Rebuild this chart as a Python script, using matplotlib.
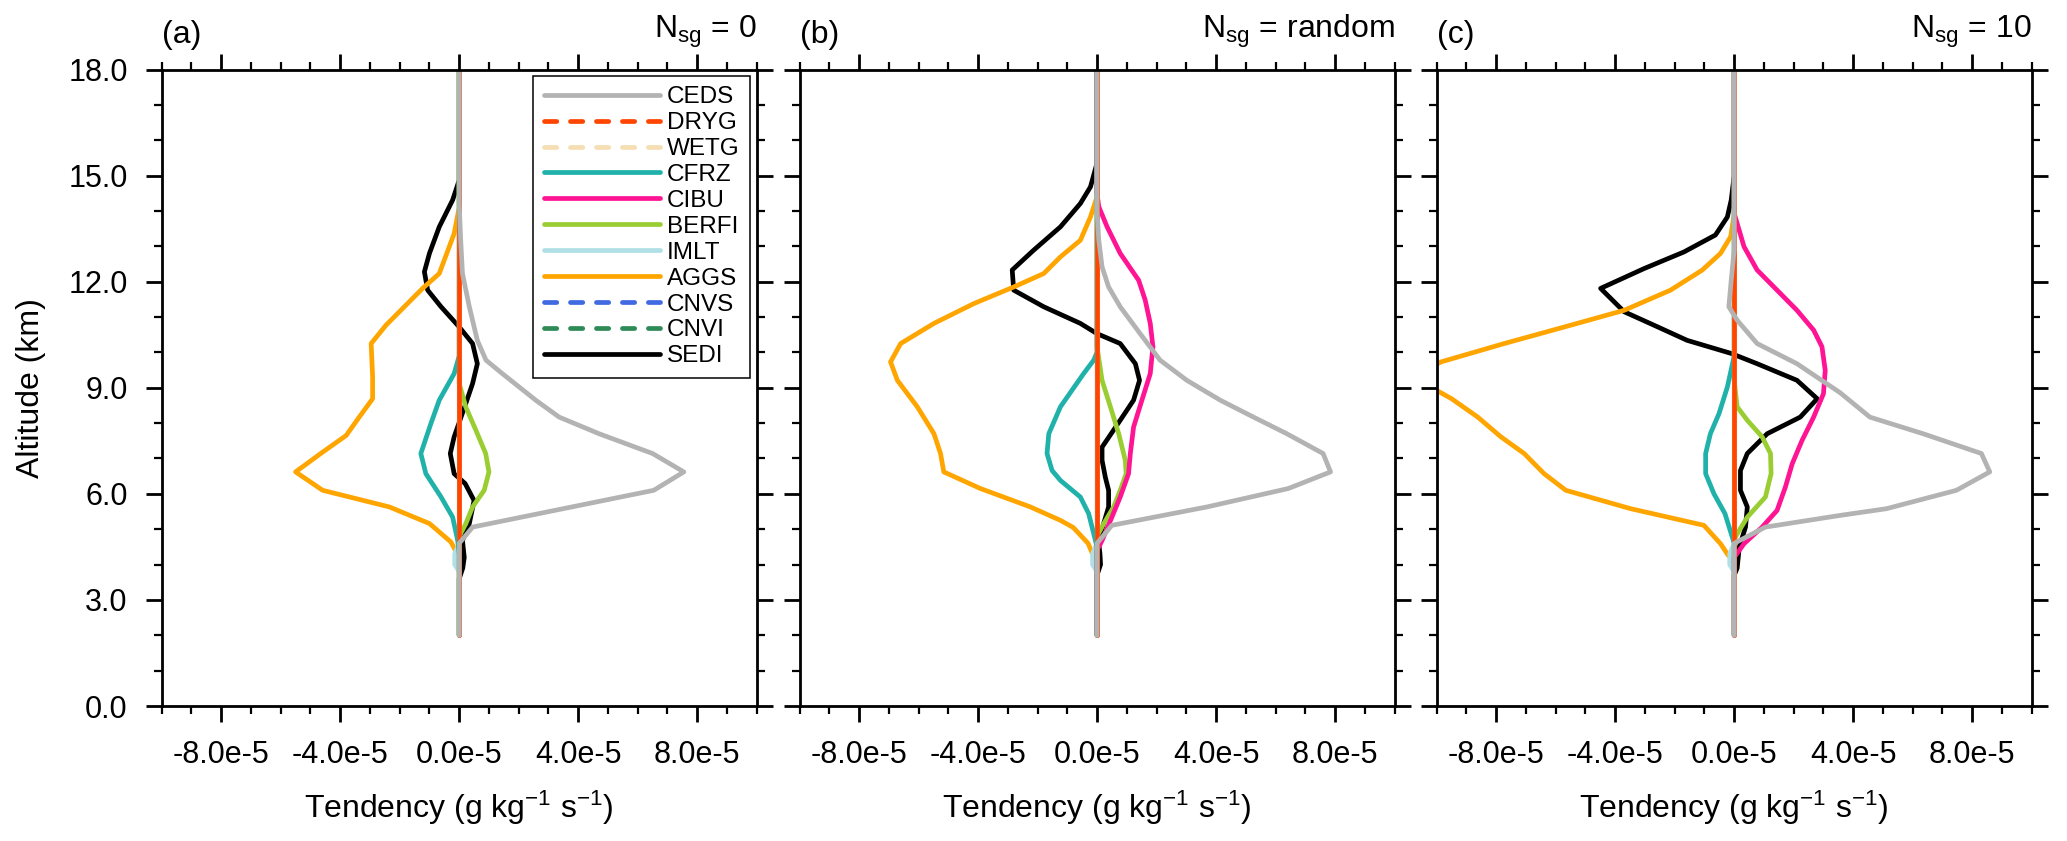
import numpy as np
import matplotlib
matplotlib.use('Agg')
import matplotlib.pyplot as plt
from matplotlib.ticker import FixedLocator, MultipleLocator

plt.rcParams['font.family'] = 'Liberation Sans'
plt.rcParams['mathtext.fontset'] = 'custom'
plt.rcParams['mathtext.rm'] = 'Liberation Sans'
plt.rcParams['mathtext.it'] = 'Liberation Sans:italic'

scale = 1e-5  # profile values below are in units of 1e-5 g/kg/s

# legend order (top to bottom), colours and dashing
procs = ['CEDS', 'DRYG', 'WETG', 'CFRZ', 'CIBU', 'BERFI', 'IMLT', 'AGGS', 'CNVS', 'CNVI', 'SEDI']
colors = ['#b3b3b3', '#ff4500', '#f5deb3', '#20b2aa', '#ff1493', '#9acd32',
          '#b0e0e6', '#ffa500', '#4169e1', '#2e8b57', 'black']
dashed = [False, True, True, False, False, False, False, False, True, True, False]

panel_tags = ['(a)', '(b)', '(c)']
panel_titles = [r'N$_{\mathrm{sg}}$ = 0', r'N$_{\mathrm{sg}}$ = random', r'N$_{\mathrm{sg}}$ = 10']

xticks = [-8e-5, -4e-5, 0.0, 4e-5, 8e-5]
xticklabels = ['-8.0e-5', '-4.0e-5', '0.0e-5', '4.0e-5', '8.0e-5']
yticks = [0, 3, 6, 9, 12, 15, 18]
yticklabels = ['0.0', '3.0', '6.0', '9.0', '12.0', '15.0', '18.0']

# processes that stay at zero
zero_z = [2.0, 18.0]
zero_x = [0.0, 0.0]

imlt_z = [2.0, 3.8, 4.0, 4.3, 4.6, 18.0]
imlt_x = [0.0, 0.0, -0.15, -0.15, 0.0, 0.0]

# ---- panel (a): Nsg = 0
ceds_a_z = [2.0, 4.6, 5.06, 6.10, 6.62, 7.14, 7.70, 8.17, 8.65, 9.40, 9.78, 10.34, 11.29, 12.23, 13.17, 14.2, 18.0]
ceds_a_x = [0.0, 0.0, 0.45, 6.54, 7.55, 6.5, 4.7, 3.36, 2.57, 1.45, 0.9, 0.61, 0.34, 0.11, 0.05, 0.0, 0.0]
aggs_a_z = [2.0, 4.2, 4.64, 5.16, 5.63, 6.10, 6.62, 7.18, 7.65, 8.17, 8.69, 9.30, 10.25, 10.77, 11.81, 12.23, 13.36, 14.1, 18.0]
aggs_a_x = [0.0, 0.0, -0.28, -1.0, -2.35, -4.59, -5.50, -4.59, -3.80, -3.36, -2.91, -2.91, -2.96, -2.46, -1.23, -0.67, -0.17, 0.0, 0.0]
sedi_a_z = [2.0, 3.6, 3.9, 4.2, 4.68, 5.16, 5.81, 6.29, 6.57, 7.14, 7.61, 8.55, 9.12, 9.68, 10.25, 10.72, 11.29, 11.76, 12.28, 12.80, 13.55, 14.31, 14.87, 18.0]
sedi_a_x = [0.0, 0.0, 0.12, 0.17, 0.11, 0.34, 0.5, 0.2, -0.17, -0.30, -0.17, 0.22, 0.45, 0.61, 0.45, 0.0, -0.61, -1.06, -1.17, -1.0, -0.67, -0.22, 0.0, 0.0]
cfrz_a_z = [2.0, 4.3, 4.68, 5.34, 5.91, 6.57, 7.14, 7.99, 8.65, 9.40, 9.9, 18.0]
cfrz_a_x = [0.0, 0.0, -0.05, -0.22, -0.61, -1.12, -1.29, -0.95, -0.67, -0.17, 0.0, 0.0]
berfi_a_z = [2.0, 4.8, 5.15, 5.63, 6.10, 6.62, 7.14, 7.80, 8.46, 9.12, 18.0]
berfi_a_x = [0.0, 0.0, 0.22, 0.45, 0.84, 1.0, 0.89, 0.56, 0.22, 0.0, 0.0]

# ---- panel (b): Nsg = random
ceds_b_z = [2.0, 4.6, 5.11, 5.63, 6.15, 6.62, 7.14, 7.70, 8.17, 8.65, 9.21, 9.78, 10.53, 11.29, 11.85, 12.42, 13.17, 14.0, 18.0]
ceds_b_x = [0.0, 0.0, 0.50, 3.7, 6.43, 7.85, 7.60, 6.38, 5.26, 4.14, 3.02, 2.12, 1.45, 0.78, 0.39, 0.17, 0.06, 0.0, 0.0]
aggs_b_z = [2.0, 4.15, 4.3, 4.6, 5.05, 5.25, 5.63, 6.15, 6.62, 7.14, 7.70, 8.46, 9.21, 9.73, 10.25, 10.82, 11.38, 11.85, 12.23, 12.7, 13.17, 13.83, 14.4, 18.0]
aggs_b_x = [0.0, 0.0, -0.15, -0.3, -0.8, -1.23, -2.24, -3.92, -5.15, -5.26, -5.48, -6.04, -6.71, -6.94, -6.60, -5.48, -4.14, -2.80, -1.79, -1.23, -0.56, -0.22, 0.0, 0.0]
sedi_b_z = [2.0, 3.7, 4.0, 4.3, 4.68, 5.15, 5.63, 6.10, 6.47, 6.95, 7.32, 8.08, 8.65, 9.21, 9.68, 10.25, 10.53, 10.82, 11.29, 11.76, 12.33, 12.89, 13.55, 14.21, 14.68, 15.35, 18.0]
sedi_b_x = [0.0, 0.0, 0.12, 0.1, 0.05, 0.22, 0.39, 0.39, 0.28, 0.17, 0.17, 0.78, 1.23, 1.43, 1.29, 0.78, 0.0, -0.56, -1.79, -2.80, -2.85, -2.13, -1.23, -0.56, -0.22, 0.0, 0.0]
cibu_b_z = [2.0, 4.4, 4.68, 5.34, 5.91, 6.57, 7.14, 7.89, 8.65, 9.40, 10.16, 10.82, 11.48, 12.04, 12.80, 13.55, 14.12, 14.5, 18.0]
cibu_b_x = [0.0, 0.0, 0.17, 0.50, 0.78, 1.06, 1.12, 1.23, 1.51, 1.79, 1.88, 1.79, 1.62, 1.40, 0.78, 0.34, 0.06, 0.0, 0.0]
berfi_b_z = [2.0, 4.8, 5.15, 5.63, 6.10, 6.57, 6.95, 7.70, 8.46, 9.21, 10.16, 18.0]
berfi_b_x = [0.0, 0.0, 0.22, 0.56, 0.78, 0.98, 0.95, 0.73, 0.45, 0.17, 0.0, 0.0]
cfrz_b_z = [2.0, 4.5, 4.87, 5.44, 5.91, 6.38, 6.66, 7.14, 7.70, 8.46, 9.40, 9.78, 10.0, 18.0]
cfrz_b_x = [0.0, 0.0, -0.11, -0.28, -0.56, -1.23, -1.51, -1.68, -1.62, -1.23, -0.45, -0.11, 0.0, 0.0]

# ---- panel (c): Nsg = 10
ceds_c_z = [2.0, 4.6, 5.06, 5.39, 5.58, 6.10, 6.62, 7.14, 7.70, 8.17, 8.86, 9.68, 10.25, 10.91, 11.29, 12.04, 12.9, 18.0]
ceds_c_x = [0.0, 0.0, 1.05, 3.56, 5.12, 7.47, 8.59, 8.31, 6.35, 4.56, 3.56, 2.11, 0.77, 0.1, -0.18, -0.1, 0.0, 0.0]
aggs_c_z = [2.0, 4.1, 4.26, 4.59, 5.11, 5.58, 6.10, 6.57, 7.14, 7.61, 8.17, 8.69, 9.3, 9.73, 10.25, 10.77, 11.19, 11.76, 12.33, 12.80, 13.27, 13.9, 18.0]
aggs_c_x = [0.0, 0.0, -0.2, -0.46, -1.02, -3.48, -5.66, -6.39, -7.06, -7.84, -8.62, -9.5, -10.8, -9.86, -7.73, -5.49, -3.70, -2.14, -1.07, -0.46, -0.12, 0.0, 0.0]
sedi_c_z = [2.0, 3.7, 3.9, 4.49, 5.06, 5.63, 6.10, 6.66, 7.14, 7.70, 8.17, 8.69, 9.21, 9.68, 9.97, 10.34, 10.77, 11.15, 11.81, 12.37, 12.84, 13.32, 13.83, 14.31, 15.0, 18.0]
sedi_c_x = [0.0, 0.0, 0.1, 0.17, 0.38, 0.44, 0.21, 0.21, 0.44, 1.11, 2.22, 2.79, 2.11, 0.77, -0.1, -1.58, -2.70, -3.70, -4.49, -3.03, -1.69, -0.63, -0.23, -0.1, 0.0, 0.0]
cibu_c_z = [2.0, 4.2, 4.59, 5.06, 5.53, 6.19, 6.85, 7.51, 8.17, 8.83, 9.49, 10.16, 10.63, 11.19, 11.76, 12.33, 12.99, 13.93, 18.0]
cibu_c_x = [0.0, 0.0, 0.33, 0.94, 1.44, 1.72, 1.95, 2.28, 2.67, 3.0, 3.06, 2.95, 2.67, 2.11, 1.44, 0.77, 0.33, 0.0, 0.0]
berfi_c_z = [2.0, 4.7, 4.87, 5.34, 5.91, 6.57, 7.14, 7.61, 8.08, 8.46, 9.21, 18.0]
berfi_c_x = [0.0, 0.0, 0.1, 0.44, 1.05, 1.24, 1.22, 0.94, 0.44, 0.1, 0.0, 0.0]
cfrz_c_z = [2.0, 4.6, 4.87, 5.44, 6.0, 6.57, 7.14, 7.70, 8.27, 9.02, 9.9, 18.0]
cfrz_c_x = [0.0, 0.0, -0.1, -0.31, -0.68, -0.96, -0.96, -0.80, -0.51, -0.23, 0.0, 0.0]

zero = (zero_z, zero_x)
imlt = (imlt_z, imlt_x)
panels = [
    [(ceds_a_z, ceds_a_x), zero, zero, (cfrz_a_z, cfrz_a_x), zero, (berfi_a_z, berfi_a_x),
     imlt, (aggs_a_z, aggs_a_x), zero, zero, (sedi_a_z, sedi_a_x)],
    [(ceds_b_z, ceds_b_x), zero, zero, (cfrz_b_z, cfrz_b_x), (cibu_b_z, cibu_b_x), (berfi_b_z, berfi_b_x),
     imlt, (aggs_b_z, aggs_b_x), zero, zero, (sedi_b_z, sedi_b_x)],
    [(ceds_c_z, ceds_c_x), zero, zero, (cfrz_c_z, cfrz_c_x), (cibu_c_z, cibu_c_x), (berfi_c_z, berfi_c_x),
     imlt, (aggs_c_z, aggs_c_x), zero, zero, (sedi_c_z, sedi_c_x)],
]

W, H = 2067, 841
fig = plt.figure(figsize=(W / 100, H / 100), dpi=100)
lefts = [161.7, 799.5, 1436.7]
ax_w = 595.0
ax_top, ax_bot = 69.5, 706.0
lw = 3.4
dash = (0, (2.6, 2.9))

for p in range(3):
    ax = fig.add_axes([lefts[p] / W, (H - ax_bot) / H, ax_w / W, (ax_bot - ax_top) / H])

    # NCL draws the first curve at the bottom; legend lists them reversed.
    # dashed curves look solid on the plot (dash pattern restarts each short segment)
    for i in reversed(range(len(procs))):
        z, x = panels[p][i]
        ax.plot(np.array(x) * scale, z, color=colors[i], lw=lw, ls='-',
                solid_capstyle='round', label=procs[i])

    ax.set_xlim(-1e-4, 1e-4)
    ax.set_ylim(0, 18)
    ax.xaxis.set_major_locator(FixedLocator(xticks))
    ax.set_xticklabels(xticklabels)
    ax.xaxis.set_minor_locator(MultipleLocator(1e-5))
    ax.yaxis.set_major_locator(FixedLocator(yticks))
    ax.set_yticklabels(yticklabels)
    ax.yaxis.set_minor_locator(MultipleLocator(1))

    for s in ax.spines.values():
        s.set_linewidth(2.0)
    ax.tick_params(which='both', direction='out', top=True, right=True,
                   labeltop=False, labelright=False, labelsize=22, pad=13)
    ax.tick_params(which='major', length=11.5, width=2.0)
    ax.tick_params(which='minor', length=6, width=1.6)
    if p > 0:
        ax.tick_params(labelleft=False)
    else:
        ax.set_ylabel('Altitude (km)', fontsize=23)
        ax.yaxis.set_label_coords(-0.195, 0.5)

    ax.set_xlabel(r'Tendency (g kg$^{-1}$ s$^{-1}$)', fontsize=23)
    ax.xaxis.set_label_coords(0.5, -0.13)

    ax.text(0.0, 1.031, panel_tags[p], transform=ax.transAxes, ha='left', va='bottom', fontsize=23)
    ax.text(1.0, 1.031, panel_titles[p], transform=ax.transAxes, ha='right', va='bottom', fontsize=23)

    if p == 0:
        handles, labels = ax.get_legend_handles_labels()
        leg = ax.legend(handles[::-1], labels[::-1], loc='upper right', bbox_to_anchor=(1.0, 1.0),
                        fontsize=17.5, handlelength=4.8, handletextpad=0.28, labelspacing=0.16,
                        borderpad=0.42, borderaxespad=0.27, fancybox=False, framealpha=1,
                        edgecolor='black')
        leg.get_frame().set_linewidth(1.1)
        for line, d in zip(leg.get_lines(), dashed):
            if d:
                line.set_linestyle(dash)
                line.set_dash_capstyle('round')

fig.savefig('out.png', dpi=100)
